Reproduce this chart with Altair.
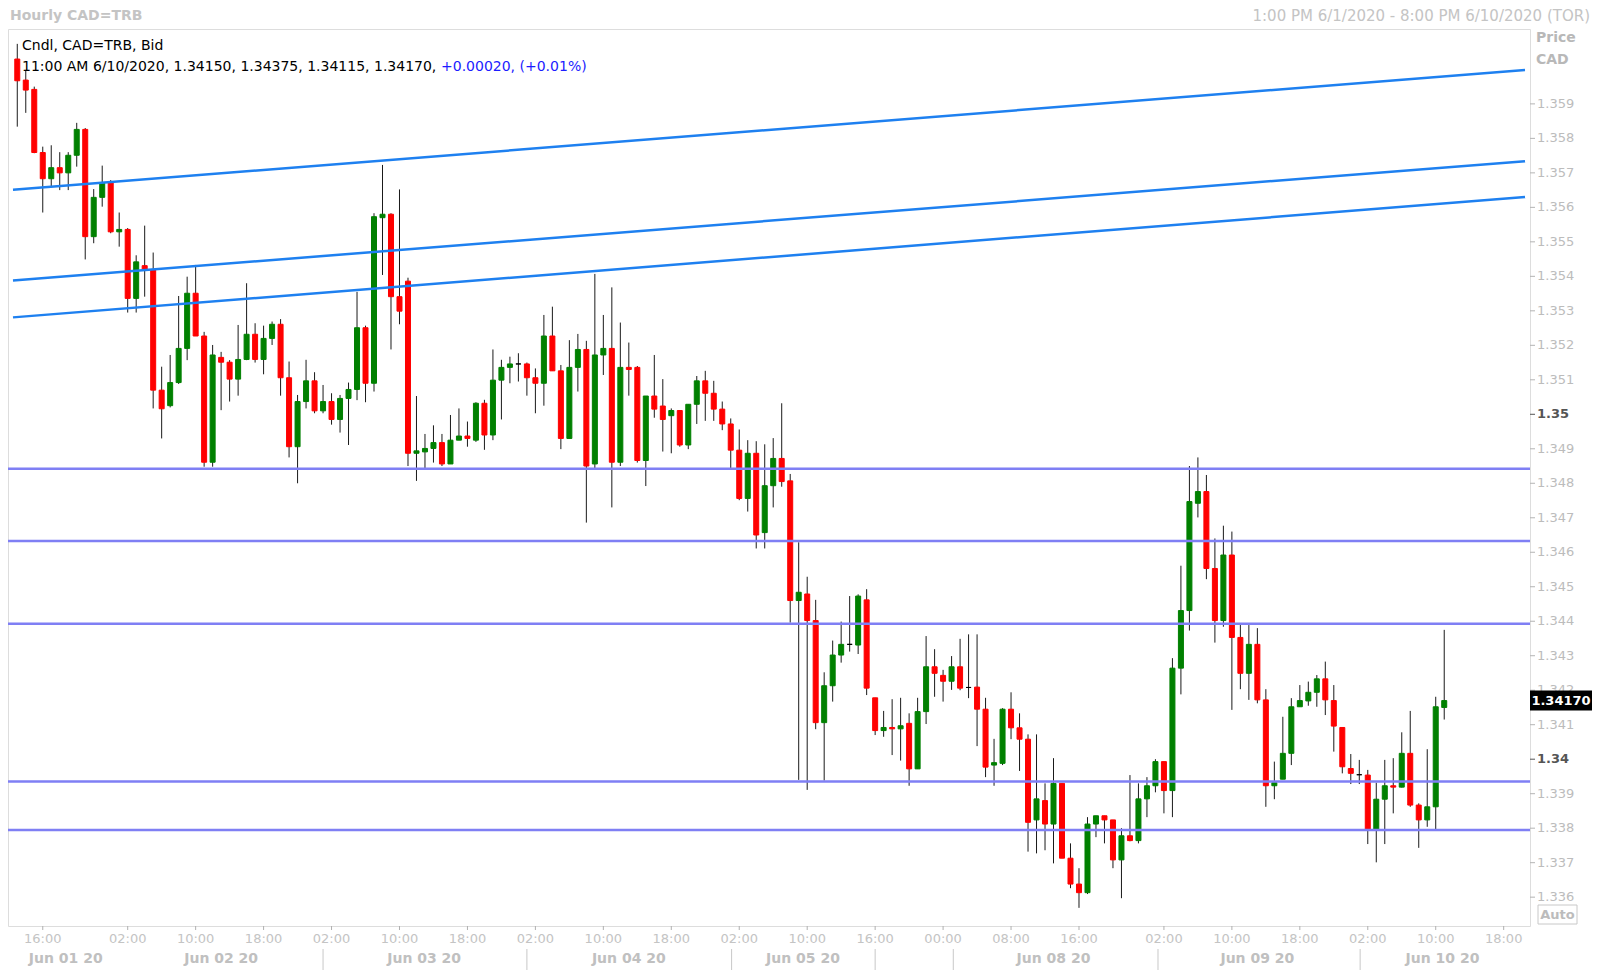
import altair as alt
import pandas as pd

# ---------------- data ----------------
opens = [1.3603, 1.35969, 1.35942, 1.35759, 1.35683, 1.35715, 1.357, 1.35751, 1.35826, 1.35515,
         1.35629, 1.35674, 1.35529, 1.35536, 1.35336, 1.35431, 1.3542, 1.3507, 1.35025, 1.35092,
         1.35191, 1.35351, 1.35227, 1.34861, 1.35165, 1.35151, 1.35102, 1.35159, 1.35232, 1.35159,
         1.3522, 1.35261, 1.35106, 1.34906, 1.35037, 1.35097, 1.3501, 1.35037, 1.34985, 1.35046,
         1.35072, 1.35251, 1.3509, 1.3557, 1.3558, 1.35341, 1.35386, 1.34887, 1.34891, 1.34901,
         1.34918, 1.34856, 1.34925, 1.34937, 1.34925, 1.35032, 1.3494, 1.35099, 1.35136, 1.35146,
         1.35146, 1.35106, 1.3509, 1.35227, 1.35126, 1.3493, 1.35136, 1.35188, 1.34856, 1.35172,
         1.35191, 1.34861, 1.35136, 1.35136, 1.34866, 1.35053, 1.35024, 1.34996, 1.35011, 1.34911,
         1.35029, 1.35097, 1.35061, 1.35015, 1.34972, 1.34896, 1.34756, 1.34887, 1.34657, 1.34793,
         1.34872, 1.34807, 1.3446, 1.34479, 1.34402, 1.34106, 1.34213, 1.34302, 1.34333, 1.34331,
         1.34462, 1.34178, 1.34083, 1.34092, 1.34088, 1.34104, 1.33972, 1.34138, 1.34268, 1.34243,
         1.34226, 1.34268, 1.34208, 1.34209, 1.34145, 1.33983, 1.33988, 1.34145, 1.34091, 1.34058,
         1.33824, 1.3388, 1.33812, 1.3393, 1.33713, 1.33638, 1.33613, 1.33812, 1.33836, 1.33824,
         1.33708, 1.33778, 1.33764, 1.33885, 1.33923, 1.33993, 1.33909, 1.34264, 1.34431, 1.34742,
         1.34776, 1.34553, 1.34402, 1.34592, 1.34353, 1.34249, 1.34333, 1.34172, 1.33923, 1.33942,
         1.34017, 1.34152, 1.34169, 1.34194, 1.34233, 1.3417, 1.34092, 1.33973, 1.33955, 1.33954,
         1.33795, 1.33884, 1.33923, 1.33919, 1.34017, 1.33867, 1.33824, 1.33862, 1.3415]
highs = [1.36074, 1.35998, 1.3595, 1.35776, 1.3578, 1.3576, 1.3576, 1.35845, 1.3583, 1.35653,
         1.35721, 1.35679, 1.35585, 1.3554, 1.35461, 1.35547, 1.35469, 1.35138, 1.35172, 1.35343,
         1.35399, 1.35433, 1.35239, 1.35201, 1.35181, 1.35157, 1.35259, 1.3538, 1.35264, 1.35257,
         1.35269, 1.35276, 1.35153, 1.35056, 1.35158, 1.35122, 1.35085, 1.35061, 1.35056, 1.35092,
         1.35355, 1.35257, 1.35583, 1.35723, 1.35583, 1.35652, 1.35396, 1.35053, 1.34943, 1.34968,
         1.34943, 1.34998, 1.35017, 1.34979, 1.35035, 1.35042, 1.35188, 1.35158, 1.35167, 1.35177,
         1.3515, 1.35133, 1.35288, 1.35312, 1.35143, 1.35215, 1.35233, 1.35213, 1.35407, 1.35288,
         1.35368, 1.35266, 1.35208, 1.3514, 1.35053, 1.35172, 1.35102, 1.35017, 1.35011, 1.35029,
         1.35111, 1.35126, 1.35097, 1.35037, 1.34988, 1.34956, 1.34925, 1.34922, 1.34913, 1.34931,
         1.35032, 1.34827, 1.34629, 1.34529, 1.34462, 1.34252, 1.34344, 1.34399, 1.34473, 1.34478,
         1.34493, 1.34178, 1.3414, 1.34174, 1.34178, 1.34133, 1.34178, 1.34357, 1.34319, 1.34259,
         1.34299, 1.34349, 1.34362, 1.34362, 1.34178, 1.34059, 1.34148, 1.34194, 1.34133, 1.34072,
         1.34072, 1.3393, 1.34003, 1.3393, 1.33756, 1.33684, 1.33832, 1.33836, 1.33836, 1.33824,
         1.338, 1.33954, 1.3393, 1.33948, 1.34, 1.33993, 1.34293, 1.34561, 1.3485, 1.34875,
         1.34824, 1.3464, 1.34677, 1.3466, 1.34389, 1.34389, 1.3438, 1.34203, 1.33993, 1.34123,
         1.34177, 1.34215, 1.34225, 1.34244, 1.34283, 1.34215, 1.34092, 1.34015, 1.33998, 1.33969,
         1.33932, 1.33998, 1.34003, 1.34078, 1.3414, 1.33872, 1.34029, 1.34181, 1.34375]
lows = [1.35834, 1.35874, 1.35757, 1.35585, 1.3566, 1.3565, 1.3565, 1.35718, 1.35449, 1.35496,
        1.35602, 1.35525, 1.35486, 1.35295, 1.35295, 1.35341, 1.35017, 1.3493, 1.3502, 1.35088,
        1.35157, 1.35227, 1.34848, 1.34848, 1.35012, 1.35037, 1.35054, 1.35157, 1.3515, 1.35116,
        1.35201, 1.35054, 1.34875, 1.348, 1.35017, 1.35003, 1.35003, 1.3497, 1.34947, 1.34911,
        1.35041, 1.35035, 1.35066, 1.35404, 1.35188, 1.35261, 1.3485, 1.34807, 1.34843, 1.3486,
        1.3485, 1.34856, 1.34925, 1.34906, 1.3492, 1.34897, 1.34925, 1.34985, 1.3509, 1.35095,
        1.35054, 1.35003, 1.35025, 1.35126, 1.34899, 1.3493, 1.35066, 1.34686, 1.34843, 1.35114,
        1.3473, 1.3485, 1.35054, 1.3486, 1.34792, 1.3499, 1.34892, 1.34887, 1.34906, 1.34899,
        1.34972, 1.34981, 1.34981, 1.34954, 1.34843, 1.34751, 1.34718, 1.34611, 1.34611, 1.3473,
        1.3479, 1.34396, 1.3394, 1.33911, 1.34087, 1.33938, 1.34167, 1.3428, 1.34312, 1.34305,
        1.34186, 1.3407, 1.34065, 1.34012, 1.33996, 1.33923, 1.33972, 1.34102, 1.34181, 1.34167,
        1.34201, 1.342, 1.34177, 1.34038, 1.33948, 1.33923, 1.33983, 1.34058, 1.33966, 1.33732,
        1.33727, 1.33736, 1.33698, 1.33713, 1.33626, 1.33569, 1.33609, 1.33774, 1.33756, 1.33684,
        1.33597, 1.33762, 1.33756, 1.33832, 1.33904, 1.33843, 1.33832, 1.34188, 1.34373, 1.34701,
        1.34522, 1.34338, 1.34384, 1.34143, 1.34203, 1.34172, 1.34162, 1.33862, 1.33884, 1.33942,
        1.33983, 1.34152, 1.34155, 1.34152, 1.34128, 1.34022, 1.33959, 1.33928, 1.33928, 1.33754,
        1.33701, 1.33754, 1.33843, 1.33918, 1.33862, 1.33743, 1.33804, 1.33797, 1.34115]
closes = [1.35967, 1.3594, 1.35759, 1.35683, 1.35715, 1.357, 1.35751, 1.35826, 1.35515, 1.35629,
          1.3567, 1.35529, 1.35536, 1.35336, 1.35442, 1.3542, 1.3507, 1.35016, 1.35092, 1.35191,
          1.35351, 1.35227, 1.34861, 1.35172, 1.35151, 1.35102, 1.35159, 1.35232, 1.35159, 1.3522,
          1.35261, 1.35106, 1.34906, 1.35037, 1.35097, 1.3501, 1.35037, 1.34985, 1.35046, 1.35072,
          1.35251, 1.3509, 1.35573, 1.3558, 1.35341, 1.35299, 1.34887, 1.34894, 1.34901, 1.34918,
          1.34856, 1.34925, 1.34937, 1.3493, 1.35032, 1.3494, 1.35099, 1.35136, 1.35146, 1.35146,
          1.35106, 1.3509, 1.35227, 1.35126, 1.3493, 1.35136, 1.35188, 1.3485, 1.35172, 1.35191,
          1.34861, 1.35136, 1.3513, 1.34866, 1.35053, 1.35015, 1.34985, 1.35011, 1.34911, 1.35029,
          1.35097, 1.35061, 1.35015, 1.34972, 1.34896, 1.34756, 1.34887, 1.3465, 1.34793, 1.34872,
          1.34805, 1.3446, 1.34484, 1.34402, 1.34106, 1.34213, 1.34302, 1.34333, 1.34333, 1.34473,
          1.34206, 1.34083, 1.34092, 1.34088, 1.34097, 1.33972, 1.34138, 1.34268, 1.34249, 1.34226,
          1.34268, 1.34206, 1.34208, 1.34145, 1.33977, 1.3399, 1.34145, 1.34091, 1.34058, 1.33817,
          1.33885, 1.33812, 1.3393, 1.33713, 1.33638, 1.33613, 1.33812, 1.33836, 1.33824, 1.33708,
          1.33778, 1.33764, 1.33885, 1.33923, 1.33993, 1.33909, 1.34264, 1.34431, 1.34747, 1.34776,
          1.34553, 1.34402, 1.34592, 1.34353, 1.34249, 1.34333, 1.34172, 1.33923, 1.33932, 1.34017,
          1.34152, 1.3417, 1.34194, 1.34233, 1.34172, 1.34096, 1.33978, 1.33959, 1.33955, 1.33795,
          1.33884, 1.33923, 1.33919, 1.34017, 1.33867, 1.33824, 1.33862, 1.34152, 1.3417]

trend_left = [1.35651, 1.35388, 1.35281]
trend_right = [1.35998, 1.35734, 1.3563]
levels = [1.34842, 1.34633, 1.34393, 1.33935, 1.33795]

time_pos = [3, 13, 21, 29, 37, 45, 53, 61, 69, 77, 85, 93, 101, 109, 117, 125, 135, 143, 151, 159, 167, 175]
time_labels = ["16:00", "02:00", "10:00", "18:00", "02:00", "10:00", "18:00", "02:00", "10:00", "18:00",
               "02:00", "10:00", "16:00", "00:00", "08:00", "16:00", "02:00", "10:00", "18:00", "02:00",
               "10:00", "18:00"]
date_pos = [5.7, 24.0, 47.9, 72.0, 92.5, 122.0, 146.0, 167.8]
date_labels = ["Jun 01 20", "Jun 02 20", "Jun 03 20", "Jun 04 20", "Jun 05 20", "Jun 08 20",
               "Jun 09 20", "Jun 10 20"]
sep_pos = [36.0, 60.0, 84.1, 101.0, 110.2, 134.3, 158.1]
y_ticks = [1.336, 1.337, 1.338, 1.339, 1.340, 1.341, 1.342, 1.343, 1.344, 1.345, 1.346, 1.347,
           1.348, 1.349, 1.350, 1.351, 1.352, 1.353, 1.354, 1.355, 1.356, 1.357, 1.358, 1.359]
y_tick_labels = ["1.336", "1.337", "1.338", "1.339", "1.34", "1.341", "1.342", "1.343", "1.344",
                 "1.345", "1.346", "1.347", "1.348", "1.349", "1.35", "1.351", "1.352", "1.353",
                 "1.354", "1.355", "1.356", "1.357", "1.358", "1.359"]
last_price = [1.3417]
last_label = ["1.34170"]

# ---------------- layout ----------------
W, H = 1522, 897
X_DOM = [-0.503, 177.51]
Y_DOM = [1.335164, 1.361171]
FONT = "DejaVu Sans"

xs = alt.Scale(domain=X_DOM, nice=False, zero=False)
ys = alt.Scale(domain=Y_DOM, nice=False, zero=False)

n = len(opens)
df = pd.DataFrame({"i": list(range(n)), "o": opens, "h": highs, "l": lows, "c": closes})
df["dir"] = ["up" if c > o else ("down" if c < o else "flat") for o, c in zip(df["o"], df["c"])]

dir_scale = alt.Scale(domain=["up", "down", "flat"], range=["#008000", "#ff0000", "#000000"])

wicks = alt.Chart(df).mark_rule(color="#1a1a1a", strokeWidth=1).encode(
    x=alt.X("i:Q", scale=xs, axis=None),
    y=alt.Y("l:Q", scale=ys, axis=None),
    y2="h:Q",
)

bodies = alt.Chart(df).mark_bar(size=5, strokeWidth=1).encode(
    x=alt.X("i:Q", scale=xs, axis=None),
    y=alt.Y("o:Q", scale=ys, axis=None),
    y2="c:Q",
    color=alt.Color("dir:N", scale=dir_scale, legend=None),
    stroke=alt.Stroke("dir:N", scale=dir_scale, legend=None),
)

tdf = pd.DataFrame({"x0": [X_DOM[0]] * 3, "x1": [X_DOM[1]] * 3, "y0": trend_left, "y1": trend_right})
trends = alt.Chart(tdf).mark_rule(color="#1e80f0", strokeWidth=2.5).encode(
    x=alt.X("x0:Q", scale=xs, axis=None), x2="x1:Q",
    y=alt.Y("y0:Q", scale=ys, axis=None), y2="y1:Q",
)

ldf = pd.DataFrame({"p": levels})
hlines = alt.Chart(ldf).mark_rule(color="#7f7ff4", strokeWidth=2.5).encode(
    y=alt.Y("p:Q", scale=ys, axis=None),
)

# right price axis (ticks + labels)
ydf = pd.DataFrame({"p": y_ticks, "t": y_tick_labels})
ydf["major"] = [len(t) == 4 for t in y_tick_labels]
yticks = alt.Chart(ydf).mark_rule(strokeWidth=1).encode(
    y=alt.Y("p:Q", scale=ys, axis=None), x=alt.value(W), x2=alt.value(W + 5),
    color=alt.condition("datum.major", alt.value("#555555"), alt.value("#b4b4b4")),
)
ylab_minor = alt.Chart(ydf[~ydf["major"]]).mark_text(
    font=FONT, fontSize=13, color="#bcbcbc", align="left", baseline="middle"
).encode(y=alt.Y("p:Q", scale=ys, axis=None), x=alt.value(W + 7), text="t:N")
ylab_major = alt.Chart(ydf[ydf["major"]]).mark_text(
    font=FONT, fontSize=13, color="#555555", fontWeight="bold", align="left", baseline="middle"
).encode(y=alt.Y("p:Q", scale=ys, axis=None), x=alt.value(W + 7), text="t:N")

# price box on the right axis
pdf = pd.DataFrame({"p": last_price, "t": last_label})
pbox = alt.Chart(pdf).mark_rule(color="#000000", strokeWidth=20).encode(
    y=alt.Y("p:Q", scale=ys, axis=None), x=alt.value(W), x2=alt.value(W + 62),
)
ptext = alt.Chart(pdf).mark_text(color="#ffffff", font=FONT, fontSize=13, fontWeight="bold",
                                 align="center", baseline="middle").encode(
    y=alt.Y("p:Q", scale=ys, axis=None), x=alt.value(W + 31), text="t:N",
)

# bottom time axis
tldf = pd.DataFrame({"pos": time_pos, "t": time_labels})
tticks = alt.Chart(tldf).mark_rule(color="#b0b0b0", strokeWidth=1).encode(
    x=alt.X("pos:Q", scale=xs, axis=None), y=alt.value(H), y2=alt.value(H + 4),
)
ttext = alt.Chart(tldf).mark_text(color="#c4c4c4", font=FONT, fontSize=13, align="center",
                                  baseline="middle").encode(
    x=alt.X("pos:Q", scale=xs, axis=None), y=alt.value(H + 13), text="t:N",
)
ddf = pd.DataFrame({"pos": date_pos, "t": date_labels})
dtext = alt.Chart(ddf).mark_text(color="#c0c0c0", font=FONT, fontSize=14, fontWeight="bold",
                                 align="center", baseline="middle").encode(
    x=alt.X("pos:Q", scale=xs, axis=None), y=alt.value(H + 33), text="t:N",
)
sdf = pd.DataFrame({"pos": sep_pos})
seps = alt.Chart(sdf).mark_rule(color="#c8c8c8", strokeWidth=1).encode(
    x=alt.X("pos:Q", scale=xs, axis=None), y=alt.value(H + 23), y2=alt.value(H + 44),
)


def label(txt, x, y, color="#000000", size=14, weight="normal", align="left"):
    return alt.Chart(pd.DataFrame({"t": [txt]})).mark_text(
        color=color, font=FONT, fontSize=size, fontWeight=weight, align=align, baseline="middle"
    ).encode(x=alt.value(x), y=alt.value(y), text="t:N")


title_l = label("Hourly CAD=TRB", 2, -13, color="#c4c4c4", size=14, weight="bold")
title_r = label("1:00 PM 6/1/2020 - 8:00 PM 6/10/2020 (TOR)", 1582, -13, color="#c4c4c4", size=15,
                align="right")
hdr1 = label("Cndl, CAD=TRB, Bid", 14, 17, size=14)
hdr2 = label("11:00 AM 6/10/2020, 1.34150, 1.34375, 1.34115, 1.34170,", 14, 38, size=14)
hdr3 = label("+0.00020, (+0.01%)", 433, 38, color="#1c1cff", size=14)
price_l = label("Price", W + 6, 9, color="#b8b8b8", size=14, weight="bold")
cad_l = label("CAD", W + 6, 31, color="#b8b8b8", size=14, weight="bold")

auto_box = alt.Chart(pd.DataFrame({"t": ["Auto"]})).mark_rect(
    fill="#ffffff", stroke="#c8c8c8", strokeWidth=1
).encode(x=alt.value(W + 8), x2=alt.value(W + 47), y=alt.value(H - 21), y2=alt.value(H - 2))
auto_t = label("Auto", W + 27.5, H - 11.5, color="#bcbcbc", size=13, weight="bold", align="center")

chart = alt.layer(
    wicks, bodies, trends, hlines, yticks, ylab_minor, ylab_major, pbox, ptext,
    tticks, ttext, dtext, seps,
    title_l, title_r, hdr1, hdr2, hdr3, price_l, cad_l, auto_box, auto_t,
).properties(
    width=W, height=H,
    padding={"left": 0, "top": 21, "right": 62, "bottom": 46},
    autosize=alt.AutoSizeParams(type="none"),
    background="#ffffff",
).configure_view(
    stroke="#a0a0a0", strokeWidth=1.5
).configure(font=FONT)

chart.save("out.html", embed_options={"renderer": "svg", "actions": False})
